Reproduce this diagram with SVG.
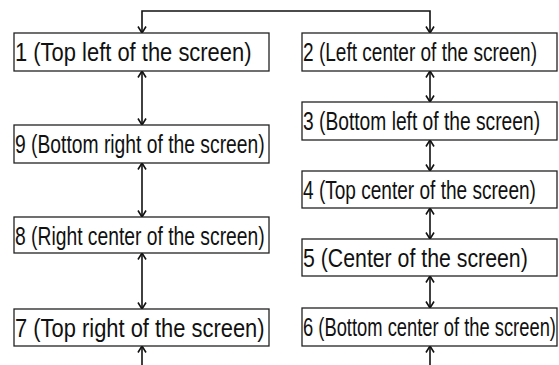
<svg xmlns="http://www.w3.org/2000/svg" width="559" height="365" viewBox="0 0 559 365">
<style>
.box{fill:#fff;stroke:#222;stroke-width:1.3}
.lbl{font-family:"Liberation Sans",Arial,sans-serif;font-size:26px;fill:#111}
.con{fill:none;stroke:#111;stroke-width:1.6}
</style>
<defs>
<marker id="ah" viewBox="-1 -5 9 10" refX="6.5" refY="0" markerWidth="9" markerHeight="10" markerUnits="userSpaceOnUse" orient="auto-start-reverse">
<path d="M0,-4 L6.5,0 L0,4" fill="none" stroke="#111" stroke-width="1.6"/>
</marker>
</defs>
<rect width="559" height="365" fill="#fff"/>
<g id="connectors">
<path class="con" d="M142,33 V11 H430 V33" marker-start="url(#ah)" marker-end="url(#ah)"/>
<path class="con" d="M142,71 V125" marker-start="url(#ah)" marker-end="url(#ah)"/>
<path class="con" d="M142,163 V217" marker-start="url(#ah)" marker-end="url(#ah)"/>
<path class="con" d="M142,253 V309" marker-start="url(#ah)" marker-end="url(#ah)"/>
<path class="con" d="M142,366 V346" marker-end="url(#ah)"/>
<path class="con" d="M430,71 V102" marker-start="url(#ah)" marker-end="url(#ah)"/>
<path class="con" d="M430,140 V171" marker-start="url(#ah)" marker-end="url(#ah)"/>
<path class="con" d="M430,208 V239" marker-start="url(#ah)" marker-end="url(#ah)"/>
<path class="con" d="M430,276 V308" marker-start="url(#ah)" marker-end="url(#ah)"/>
<path class="con" d="M430,366 V346" marker-end="url(#ah)"/>
</g>
<g id="n1"><rect class="box" x="14" y="33" width="255" height="38"/><text class="lbl" transform="translate(15,61) scale(0.844,1)">1 (Top left of the screen)</text></g>
<g id="n9"><rect class="box" x="14" y="125" width="255" height="38"/><text class="lbl" transform="translate(15,153) scale(0.742,1)">9 (Bottom right of the screen)</text></g>
<g id="n8"><rect class="box" x="14" y="217" width="255" height="36"/><text class="lbl" transform="translate(15,245) scale(0.742,1)">8 (Right center of the screen)</text></g>
<g id="n7"><rect class="box" x="14" y="309" width="255" height="37"/><text class="lbl" transform="translate(15,337) scale(0.843,1)">7 (Top right of the screen)</text></g>
<g id="n2"><rect class="box" x="302" y="33" width="255" height="38"/><text class="lbl" transform="translate(303,61) scale(0.733,1)">2 (Left center of the screen)</text></g>
<g id="n3"><rect class="box" x="302" y="102" width="255" height="38"/><text class="lbl" transform="translate(303,130) scale(0.739,1)">3 (Bottom left of the screen)</text></g>
<g id="n4"><rect class="box" x="302" y="171" width="255" height="37"/><text class="lbl" transform="translate(303,199) scale(0.733,1)">4 (Top center of the screen)</text></g>
<g id="n5"><rect class="box" x="302" y="239" width="255" height="37"/><text class="lbl" transform="translate(303,267) scale(0.819,1)">5 (Center of the screen)</text></g>
<g id="n6"><rect class="box" x="302" y="308" width="255" height="38"/><text class="lbl" transform="translate(303,336) scale(0.706,1)">6 (Bottom center of the screen)</text></g>
</svg>
